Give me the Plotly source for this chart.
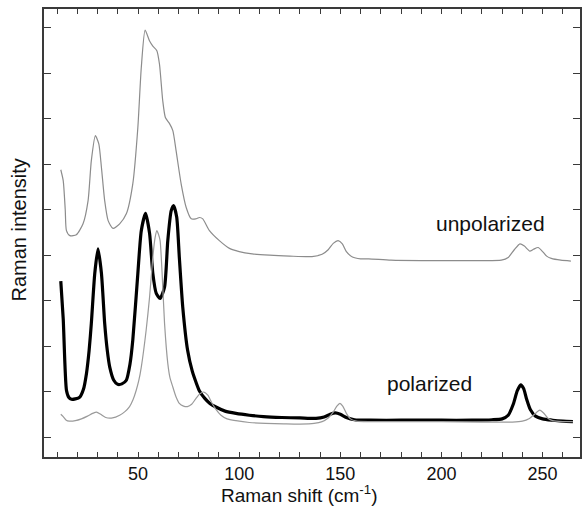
import plotly.graph_objects as go

# Unpolarized spectrum (thin gray, upper)
unpol_x = [11.8, 13.0, 14.0, 14.6, 16.3, 19.5, 22.8, 25.3, 26.9, 28.9, 30.6, 31.9, 33.5, 35.2, 37.6,
           40.9, 44.2, 47.4, 49.9, 51.6, 53.5, 55.7, 57.3, 59.3, 60.6, 62.2, 63.5, 65.5, 67.2, 68.8,
           71.3, 73.8, 76.3, 78.5, 80.4, 82.0, 85.3, 90.2, 95.2, 100, 106.4, 115, 125, 136, 141, 144,
           146.5, 148.9, 151, 153, 156, 160, 164, 175, 190, 205, 220, 229.6, 233, 236, 238.8, 241,
           243.7, 245.5, 247.8, 250, 252, 254.3, 259, 264]
unpol_y = [5.88, 5.64, 5.0, 4.54, 4.43, 4.45, 4.69, 5.2, 6.08, 6.63, 6.45, 5.93, 5.2, 4.76, 4.59,
           4.69, 4.91, 5.57, 6.81, 8.13, 8.95, 8.71, 8.6, 8.5, 8.2, 7.4, 7.03, 6.9, 6.74, 6.3,
           5.57, 5.05, 4.8, 4.8, 4.83, 4.8, 4.54, 4.32, 4.15, 4.08, 4.03, 4.0, 3.98, 3.97, 4.02, 4.12,
           4.26, 4.32, 4.25, 4.08, 3.96, 3.92, 3.92, 3.89, 3.88, 3.88, 3.88, 3.89, 3.95, 4.12, 4.25, 4.2,
           4.09, 4.13, 4.17, 4.08, 3.98, 3.93, 3.89, 3.87]

# Polarized spectrum (thick black)
pol_x = [11.8, 13.0, 14.6, 15.8, 17.1, 19, 21.2, 23, 24.5, 25.8, 26.9, 28.6, 30.2, 31.9, 33.5, 34.8,
         36, 38, 39.9, 42, 44.2, 46, 47.4, 49.9, 51.6, 53.7, 55.7, 57.3, 59, 60.9, 63.1, 64.7, 66.4,
         67.6, 69.1, 70.4, 72.1, 74.5, 76.8, 78.7, 80.3, 83, 85.5, 88.5, 93, 98.4, 105, 112, 121, 130,
         138, 142, 145, 147.6, 150, 153, 157, 165, 180, 200, 215, 225, 230, 233, 235.5, 237.5, 239.2,
         240.6, 242, 244, 246.5, 250, 255, 260, 265]
pol_y = [3.43, 2.6, 1.03, 0.87, 0.83, 0.84, 0.88, 1.05, 1.4, 1.9, 2.5, 3.6, 4.14, 3.6, 2.5, 1.9,
         1.54, 1.25, 1.16, 1.17, 1.25, 1.6, 2.13, 3.6, 4.54, 4.92, 4.48, 3.6, 3.16, 3.05, 3.3, 4.32, 4.98,
         5.09, 4.84, 3.96, 2.86, 1.91, 1.45, 1.2, 1.02, 0.85, 0.74, 0.66, 0.57, 0.52, 0.48, 0.45, 0.43, 0.42,
         0.41, 0.44, 0.5, 0.53, 0.5, 0.43, 0.38, 0.37, 0.37, 0.37, 0.37, 0.38, 0.4, 0.48, 0.72, 1.02, 1.15,
         1.07, 0.85, 0.6, 0.46, 0.4, 0.37, 0.35, 0.34]

# Polarized spectrum, other geometry (thin gray, lower)
pol2_x = [11.8, 13, 14.5, 16, 19, 22, 25, 27.5, 29.5, 31.5, 34, 37.4, 40.9, 43.5, 45.8, 47.5, 49.1,
          50.4, 51.6, 54, 55.7, 57.3, 58.4, 59.3, 60.1, 60.9, 61.9, 63.1, 64.7, 65.8, 67.2, 68.8, 70.4,
          72.5, 74.4, 76.5, 78.5, 80.5, 82.5, 84.5, 86.5, 88.5, 91, 94, 98.4, 105, 113, 122, 130, 137,
          141, 144, 146.5, 148.3, 149.8, 151.2, 153, 155, 158, 165, 180, 200, 220, 235, 240, 243.5, 246,
          248.6, 250.5, 252.5, 255, 260, 265]
pol2_y = [0.5, 0.45, 0.37, 0.35, 0.36, 0.4, 0.46, 0.52, 0.55, 0.5, 0.43, 0.42, 0.48, 0.56, 0.67, 0.82, 1.03,
          1.25, 1.54, 2.35, 3.08, 3.96, 4.38, 4.54, 4.46, 4.32, 3.6, 2.5, 1.62, 1.3, 1.1, 0.88, 0.74,
          0.68, 0.67, 0.72, 0.84, 0.95, 0.99, 0.92, 0.75, 0.61, 0.48, 0.4, 0.36, 0.32, 0.3, 0.29, 0.285, 0.3,
          0.34, 0.42, 0.55, 0.68, 0.74, 0.68, 0.52, 0.4, 0.35, 0.34, 0.34, 0.34, 0.33, 0.33, 0.35, 0.41, 0.5,
          0.59, 0.53, 0.42, 0.36, 0.34, 0.34]

x_ticks = [10, 20, 30, 40, 50, 60, 70, 80, 90, 100, 110, 120, 130, 140, 150, 160, 170, 180, 190,
           200, 210, 220, 230, 240, 250, 260]
x_tick_text = ["", "", "", "", "50", "", "", "", "", "100", "", "", "", "", "150", "", "", "", "",
               "200", "", "", "", "", "250", ""]
y_ticks = [0, 1, 2, 3, 4, 5, 6, 7, 8, 9]

FONT = "Liberation Sans, Arial, sans-serif"
AX = "#3a3a3a"
TXT = "#111111"
x_range = [3.5, 268.5]
y_range = [-0.439, 9.416]

fig = go.Figure()
fig.add_trace(go.Scatter(x=unpol_x, y=unpol_y, mode="lines",
                         line=dict(color="#8c8c8c", width=1.2, shape="spline", smoothing=0.6),
                         showlegend=False, hoverinfo="skip"))
fig.add_trace(go.Scatter(x=pol2_x, y=pol2_y, mode="lines", xaxis="x2",
                         line=dict(color="#9a9a9a", width=1.2, shape="spline", smoothing=0.6),
                         showlegend=False, hoverinfo="skip"))
fig.add_trace(go.Scatter(x=pol_x, y=pol_y, mode="lines",
                         line=dict(color="#000000", width=3.2, shape="spline", smoothing=0.6),
                         showlegend=False, hoverinfo="skip"))

fig.update_layout(
    width=582, height=506,
    margin=dict(l=44, r=0, t=9, b=49),
    paper_bgcolor="white", plot_bgcolor="white",
    font=dict(family=FONT, size=18, color=TXT),
    xaxis=dict(range=x_range, tickvals=x_ticks, ticktext=x_tick_text,
               ticks="inside", ticklen=5, tickwidth=1.1, tickcolor=AX,
               showline=True, linecolor=AX, linewidth=1.6, mirror=True,
               showgrid=False, zeroline=False,
               tickfont=dict(family=FONT, size=18, color=TXT)),
    xaxis2=dict(range=x_range, overlaying="x", side="top", tickvals=x_ticks,
                showticklabels=False, ticks="inside", ticklen=5, tickwidth=1.1, tickcolor=AX,
                showline=False, showgrid=False, zeroline=False),
    yaxis=dict(range=y_range, tickvals=y_ticks, showticklabels=False,
               ticks="inside", ticklen=7, tickwidth=1.2, tickcolor=AX,
               showline=True, linecolor=AX, linewidth=1.6, mirror="ticks",
               showgrid=False, zeroline=False),
    annotations=[
        dict(text="Raman intensity", xref="paper", yref="paper", x=-0.0465, y=0.5056,
             showarrow=False, textangle=-90, xanchor="center", yanchor="middle",
             font=dict(family=FONT, size=20, color=TXT)),
        dict(text="Raman shift (cm<sup>-1</sup>)", xref="paper", yref="paper", x=0.476, y=-0.082,
             showarrow=False, xanchor="center", yanchor="middle",
             font=dict(family=FONT, size=19, color=TXT)),
        dict(text="unpolarized", x=224.1, y=4.70, xref="x", yref="y", showarrow=False,
             xanchor="center", yanchor="middle", font=dict(family=FONT, size=21, color=TXT)),
        dict(text="polarized", x=194.1, y=1.185, xref="x", yref="y", showarrow=False,
             xanchor="center", yanchor="middle", font=dict(family=FONT, size=21, color=TXT)),
    ],
)

fig.write_html("out.html")
